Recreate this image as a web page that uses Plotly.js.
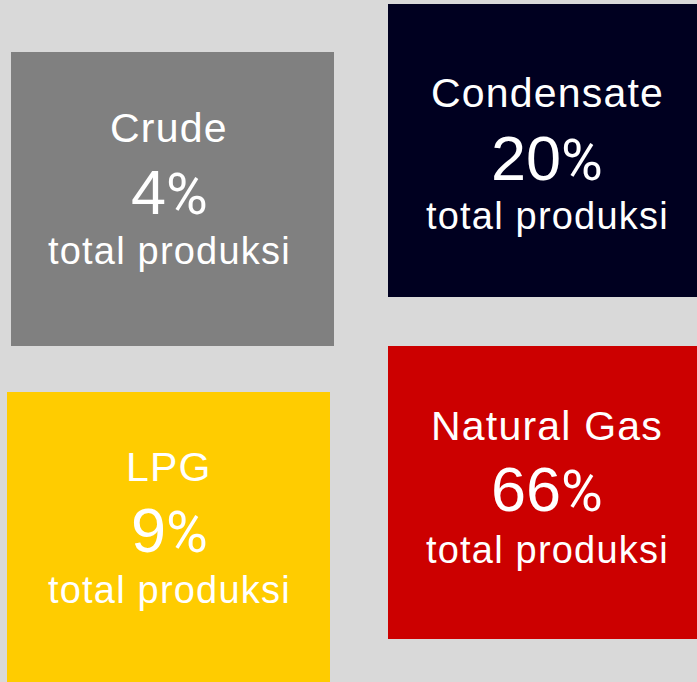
<!DOCTYPE html>
<html>
<head>
<meta charset="utf-8">
<script src="https://cdn.plot.ly/plotly-3.0.1.min.js"></script>
<style>
  html, body { margin: 0; padding: 0; background: #d9d9d9; }
  #chart { width: 697px; height: 682px; }
  .annotation-text { letter-spacing: 1.2px; }
</style>
</head>
<body>
<div id="chart"></div>
<script>
// ---- data ----
const categories = ['Crude', 'Condensate', 'LPG', 'Natural Gas'];
const shares = [4, 20, 9, 66];           // % of total production
const subLabel = 'total produksi';

// ---- layout / style (tile geometry in a 697x682 coordinate space) ----
const tileColors = ['#808080', '#000020', '#ffcc00', '#cc0000'];
const tileCenterX = [172.5, 547.5, 168.5, 547.5];
const tileWidth   = [323, 319, 323, 319];
const tileTop     = [52, 4, 392, 346];
const tileHeight  = [294, 293, 300, 293];
const textX        = [169, 547, 169, 547];
const titleBase    = [142, 107, 481, 440];
const pctBase      = [214, 180, 552, 511];
const subBase      = [264, 229, 603, 563];

const FONT = 'Liberation Sans, Arial, sans-serif';
const titleSize = 41, pctSize = 63, subSize = 38;
// baseline -> center offset for single-line text (ascent .905, descent .212)
const off = s => 0.3465 * s;

const trace = {
  type: 'bar',
  x: tileCenterX,
  width: tileWidth,
  base: tileTop,
  y: tileHeight,
  marker: { color: tileColors, line: { width: 0 } },
  text: categories.map((c, i) => c + ': ' + shares[i] + '%'),
  textposition: 'none',
  hoverinfo: 'text',
  showlegend: false
};

const annotations = [];
categories.forEach((cat, i) => {
  const common = {
    xref: 'x', yref: 'y', x: textX[i], showarrow: false,
    xanchor: 'center', yanchor: 'middle', borderpad: 0
  };
  annotations.push(Object.assign({}, common, {
    y: titleBase[i] - off(titleSize),
    text: cat,
    font: { family: FONT, size: titleSize, color: '#ffffff' }
  }));
  annotations.push(Object.assign({}, common, {
    y: pctBase[i] - off(pctSize),
    text: '<span style="letter-spacing:0px">' + shares[i] + '</span>' +
          '<span style="font-family:Roboto;font-size:57px;letter-spacing:0px">%</span>',
    font: { family: FONT, size: pctSize, color: '#ffffff' }
  }));
  annotations.push(Object.assign({}, common, {
    y: subBase[i] - off(subSize),
    text: subLabel,
    font: { family: FONT, size: subSize, color: '#ffffff' }
  }));
});

const layout = {
  width: 697, height: 682,
  margin: { l: 0, r: 0, t: 0, b: 0, pad: 0 },
  paper_bgcolor: '#d9d9d9',
  plot_bgcolor: '#d9d9d9',
  xaxis: { range: [0, 697], visible: false, fixedrange: true, showgrid: false, zeroline: false },
  yaxis: { range: [682, 0], visible: false, fixedrange: true, showgrid: false, zeroline: false },
  annotations: annotations,
  bargap: 0
};

Plotly.newPlot('chart', [trace], layout, { displayModeBar: false, staticPlot: true });
</script>
</body>
</html>
